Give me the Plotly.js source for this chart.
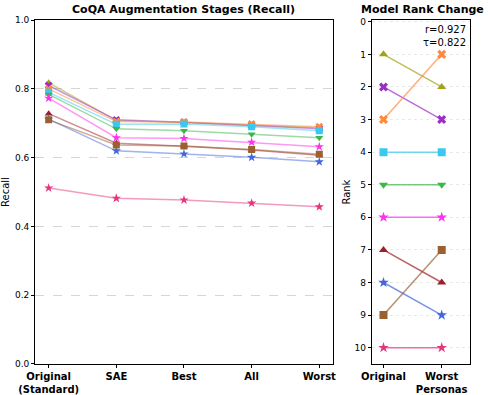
<!DOCTYPE html>
<html>
<head>
<meta charset="utf-8">
<script src="https://cdn.plot.ly/plotly-3.0.1.min.js"></script>
<style>
  html, body { margin: 0; padding: 0; background: #fff; }
  #chart { width: 488px; height: 395px; }
</style>
</head>
<body>
<div id="chart"></div>
<script>
// Stages on the left panel
const stages = ['Original<br>(Standard)', 'SAE', 'Best', 'All', 'Worst'];
const rankLabels = ['Original', 'Worst<br>Personas'];
const rankTicks = [0, 1, 2, 3, 4, 5, 6, 7, 8, 9, 10];

// Recall per model, one array per series (Original, SAE, Best, All, Worst)
const recallOlive   = [0.818, 0.708, 0.702, 0.695, 0.687];
const recallPurple  = [0.810, 0.710, 0.703, 0.694, 0.684];
const recallOrange  = [0.800, 0.705, 0.704, 0.698, 0.690];
const recallCyan    = [0.790, 0.697, 0.698, 0.690, 0.678];
const recallGreen   = [0.784, 0.684, 0.678, 0.668, 0.658];
const recallMagenta = [0.773, 0.658, 0.656, 0.645, 0.632];
const recallDarkRed = [0.728, 0.642, 0.633, 0.622, 0.607];
const recallBlue    = [0.712, 0.620, 0.611, 0.601, 0.588];
const recallBrown   = [0.710, 0.637, 0.634, 0.624, 0.610];
const recallPink    = [0.512, 0.482, 0.477, 0.468, 0.457];

// Rank at Original and at Worst Personas
const rankOriginal = [1, 2, 3, 4, 5, 6, 7, 8, 9, 10];
const rankWorst    = [2, 3, 1, 4, 5, 6, 8, 9, 7, 10];

const pearsonR = 0.927;
const kendallTau = 0.822;

var series = [
    { y: recallOlive,   color: '#a3a31a', symbol: 'triangle-up' },
    { y: recallPurple,  color: '#9b2fc4', symbol: 'x' },
    { y: recallOrange,  color: '#ff8a3d', symbol: 'x' },
    { y: recallCyan,    color: '#38c8f0', symbol: 'square' },
    { y: recallGreen,   color: '#3cb84a', symbol: 'triangle-down' },
    { y: recallMagenta, color: '#ff30f0', symbol: 'star' },
    { y: recallDarkRed, color: '#9c2028', symbol: 'triangle-up' },
    { y: recallBlue,    color: '#4466dd', symbol: 'star' },
    { y: recallBrown,   color: '#9a6030', symbol: 'square' },
    { y: recallPink,    color: '#e6357f', symbol: 'star' }
];

function fade(hex, a) {
    var r = parseInt(hex.slice(1, 3), 16);
    var g = parseInt(hex.slice(3, 5), 16);
    var b = parseInt(hex.slice(5, 7), 16);
    return 'rgba(' + r + ',' + g + ',' + b + ',' + a + ')';
}

var data = [];

// Left panel: recall across stages
series.forEach(function (s) {
    data.push({
        x: stages,
        y: s.y,
        mode: 'lines+markers',
        type: 'scatter',
        xaxis: 'x',
        yaxis: 'y',
        line: { color: fade(s.color, 0.5), width: 1.5 },
        marker: { color: s.color, symbol: s.symbol, size: 7 },
        showlegend: false
    });
});

// Right panel: rank change
series.forEach(function (s, i) {
    data.push({
        x: rankLabels,
        y: [rankOriginal[i], rankWorst[i]],
        mode: 'lines+markers',
        type: 'scatter',
        xaxis: 'x2',
        yaxis: 'y2',
        line: { color: fade(s.color, 0.7), width: 1.5 },
        marker: { color: s.color, symbol: s.symbol, size: 8 },
        showlegend: false
    });
});

var tickFont = { family: 'DejaVu Sans', size: 9, color: '#000' };
var catFont = { family: 'DejaVu Sans', size: 10, color: '#000', weight: 'bold' };

var layout = {
    width: 488,
    height: 395,
    margin: { l: 0, r: 0, t: 0, b: 0 },
    paper_bgcolor: '#fff',
    plot_bgcolor: '#fff',
    font: { family: 'DejaVu Sans', color: '#000' },
    xaxis: {
        domain: [0.072, 0.682],
        range: [-0.2, 4.2],
        showline: true, mirror: true, linecolor: '#000', linewidth: 1,
        ticks: 'outside', ticklen: 3, tickcolor: '#000',
        tickfont: catFont,
        showgrid: false, zeroline: false
    },
    yaxis: {
        domain: [0.0785, 0.949],
        range: [0, 1],
        dtick: 0.2,
        tickformat: '.1f',
        showline: true, mirror: true, linecolor: '#000', linewidth: 1,
        ticks: 'outside', ticklen: 3, tickcolor: '#000',
        tickfont: tickFont,
        showgrid: true, gridcolor: '#cccccc', griddash: 'dash', gridwidth: 0.8,
        zeroline: false,
        title: { text: 'Recall', font: { size: 10 }, standoff: 8 }
    },
    xaxis2: {
        domain: [0.762, 0.963],
        range: [-0.2, 1.485],
        anchor: 'y2',
        showline: true, mirror: true, linecolor: '#000', linewidth: 1,
        ticks: 'outside', ticklen: 3, tickcolor: '#000',
        tickfont: catFont,
        showgrid: false, zeroline: false
    },
    yaxis2: {
        domain: [0.0785, 0.949],
        range: [10.5, -0.05],
        tickmode: 'array',
        tickvals: rankTicks,
        anchor: 'x2',
        showline: true, mirror: true, linecolor: '#000', linewidth: 1,
        ticks: 'outside', ticklen: 3, tickcolor: '#000',
        tickfont: tickFont,
        showgrid: true, gridcolor: '#e4e4e4', griddash: 'dot', gridwidth: 0.8,
        zeroline: false,
        title: { text: 'Rank', font: { size: 10 }, standoff: 2 }
    },
    annotations: [
        {
            text: '<b>CoQA Augmentation Stages (Recall)</b>',
            xref: 'paper', yref: 'paper', x: 0.377, y: 0.975,
            xanchor: 'center', yanchor: 'middle', showarrow: false,
            font: { size: 11, family: 'DejaVu Sans' }
        },
        {
            text: '<b>Model Rank Change</b>',
            xref: 'paper', yref: 'paper', x: 0.865, y: 0.975,
            xanchor: 'center', yanchor: 'middle', showarrow: false,
            font: { size: 11, family: 'DejaVu Sans' }
        },
        {
            text: 'r=' + pearsonR.toFixed(3) + '<br>τ=' + kendallTau.toFixed(3),
            xref: 'x2 domain', yref: 'y2 domain', x: 0.985, y: 0.995,
            xanchor: 'right', yanchor: 'top', align: 'right', showarrow: false,
            font: { size: 10, family: 'DejaVu Sans' }
        }
    ]
};

Plotly.newPlot('chart', data, layout, { displayModeBar: false, staticPlot: true });
</script>
</body>
</html>
